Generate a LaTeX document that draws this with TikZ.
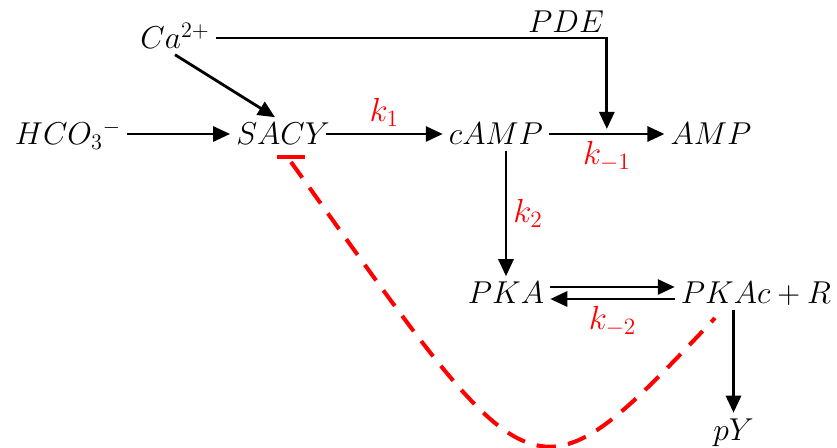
\RequirePackage{fix-cm}
\documentclass[tikz,border=0pt]{standalone}
\usepackage{amsmath}
\usepackage{xcolor}
\usetikzlibrary{arrows.meta,positioning}

\tikzset{
  mol/.style={font=\fontsize{18}{22}\selectfont, text height=12pt, text depth=0pt},
  rate/.style={font=\fontsize{19}{22}\selectfont, text=red},
  react/.style={->, line width=1.6pt},
  inhib/.style={red, line width=2.3pt, dash pattern=on 11pt off 7pt},
}

\begin{document}
\begin{tikzpicture}[node distance=4.3cm, >={Triangle[length=0.34cm,width=0.3cm]}]
\useasboundingbox (0,0) rectangle (16.74,-8.96);

\node[mol] (SACY) at (5.66,-2.68) {$SACY$};
\node[mol] (HCO) [left of=SACY] {$HCO_3{}^-$};
\node[mol] (cAMP) [right of=SACY, node distance=4.26cm] {$cAMP$};
\node[mol] (AMP) [right of=cAMP] {$AMP$};
\node[mol] (Ca) at (3.5,-0.76) {$Ca^{2+}$};
\node[mol] (PDE) at (11.32,-0.43) {$PDE$};
\node[mol] (PKA) [below of=cAMP, node distance=3.18cm, xshift=0.2cm] {$PKA$};
\node[mol] (PKAcR) [right of=PKA, node distance=5cm] {$PKAc+R$};
\node[mol] (pY) at (14.67,-8.59) {$pY$};

\coordinate (fb) at (14.3,-6.36);
\coordinate (block) at (5.82,-3.14);

\draw[react] (HCO) -- (SACY);
\draw[react] (Ca.south) -- ([xshift=-0.16cm]SACY.north);
\draw[react] ([xshift=-0.2cm]SACY.east) -- node[rate, above] {$k_1$} (cAMP);
\draw[react] (cAMP) -- coordinate[midway] (deg) node[rate, below] {$k_{-1}$} (AMP);
\draw[react] (Ca.east) -| ([yshift=0.1cm]deg);
\draw[react] (PKA.north |- cAMP.south) -- node[rate, right] {$k_2$} (PKA.north);
\draw[react] ([yshift=0.12cm]PKA.east) -- ([yshift=0.12cm]PKAcR.west);
\draw[react] ([yshift=-0.12cm]PKAcR.west) -- node[rate, below] {$k_{-2}$} ([yshift=-0.12cm]PKA.east);
\draw[react] (PKAcR.south -| pY.north) -- (pY.north);

% feedback of PKAc onto SACY
\draw[inhib] ([yshift=-0.1cm]block) .. controls (10.72,-10.06) and (10.58,-10.3) .. (fb);
\draw[red, line width=2.6pt] ([xshift=-0.28cm]block) -- ([xshift=0.28cm]block);
\end{tikzpicture}
\end{document}
